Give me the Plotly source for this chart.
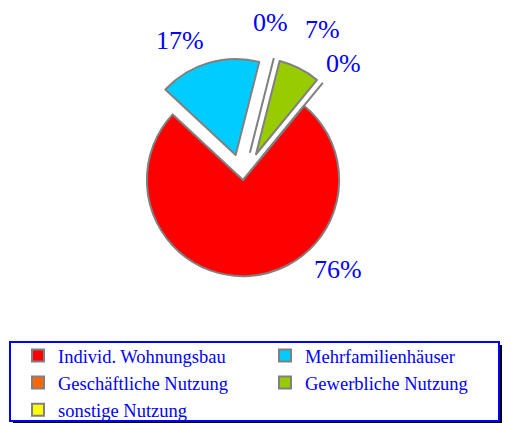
import plotly.graph_objects as go

# data (percent shares)
labels = ["Individ. Wohnungsbau", "Mehrfamilienhäuser", "Geschäftliche Nutzung",
          "Gewerbliche Nutzung", "sonstige Nutzung"]
shares = [76, 17, 0, 7, 0]
colors = ["#FF0000", "#00CCFF", "#FF6600", "#99CC00", "#FFFF00"]
pulls = [0, 0.27, 0.3, 0.3, 0.3]

OFF = 8  # page body margin: figure is drawn 8px right/down of the window corner
W, H = 510 - 2 * OFF, 423 - OFF
BLUE = "#0000FF"
FONT = "Liberation Serif, Times New Roman, serif"


def px(x, y):
    """window pixel -> paper coords"""
    return (x - OFF) / W, 1 - (y - OFF) / H


# label anchor points (window px) for the percentage texts
label_px = [(338, 269), (180, 40), (270, 22), (322, 30), (343, 64)]

cx, cy, half = 243, 180, 125
(dx0, dy1), (dx1, dy0) = px(cx - half, cy - half), px(cx + half, cy + half)

fig = go.Figure(go.Pie(
    labels=labels, values=shares, sort=False, direction="clockwise",
    rotation=39.4, pull=pulls, textinfo="none", hoverinfo="label+percent",
    marker=dict(colors=colors, line=dict(color="#808080", width=2)),
    domain=dict(x=[dx0, dx1], y=[dy0, dy1]),
))

total = sum(shares)
for (lx, ly), v in zip(label_px, shares):
    ax, ay = px(lx, ly)
    fig.add_annotation(
        x=ax, y=ay, xref="paper", yref="paper", xanchor="center", yanchor="middle",
        text=f"{round(100 * v / total)}%", showarrow=False,
        font=dict(family=FONT, size=26, color=BLUE),
    )

# legend frame + shadow
sx0, sy1 = px(13, 345)
sx1, sy0 = px(502, 426)
fig.add_shape(type="rect", xref="paper", yref="paper",
              x0=sx0, x1=sx1, y0=sy0, y1=sy1,
              fillcolor="black", line=dict(width=0))
bx0, by1 = px(10, 342)
bx1, by0 = px(499, 421)
fig.add_shape(type="rect", xref="paper", yref="paper",
              x0=bx0, x1=bx1, y0=by0, y1=by1,
              fillcolor="white", line=dict(color=BLUE, width=2))

lx, ly = px(18, 337)
fig.update_layout(
    width=W, height=H,
    margin=dict(l=0, r=0, t=0, b=0, autoexpand=False),
    paper_bgcolor="white", plot_bgcolor="white",
    font=dict(family=FONT, color=BLUE),
    showlegend=True,
    legend=dict(orientation="h", x=lx, y=ly, xanchor="left", yanchor="top",
                bgcolor="rgba(0,0,0,0)", borderwidth=0, entrywidth=202,
                font=dict(family=FONT, size=18.5, color=BLUE), itemwidth=30),
)

fig.write_html("out.html")
